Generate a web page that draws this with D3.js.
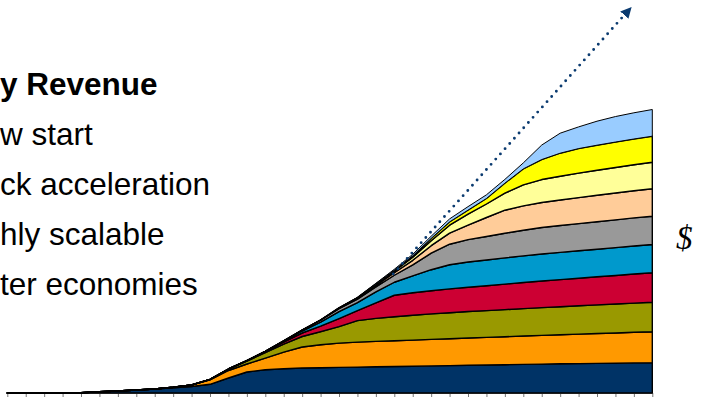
<!DOCTYPE html>
<html>
<head>
<meta charset="utf-8">
<script src="https://cdn.jsdelivr.net/npm/d3@7"></script>
<style>
  html, body { margin: 0; padding: 0; background: #fff; }
  svg { display: block; }
</style>
</head>
<body>
<svg id="chart" width="704" height="397"></svg>
<script>
// ---- data ----
const periods = d3.range(1, 37).map(d => "P" + d);

const seriesNames = ["S1","S2","S3","S4","S5","S6","S7","S8","S9","S10"];
const seriesColors = ["#003366","#FF9900","#999900","#CC0033","#0099CC","#999999","#FFCC99","#FFFF99","#FFFF00","#99CCFF"];

const s1  = [0,0,0,0,0.3,1.2,2,3,4,5.2,6.5,8.7,15,21,23.3,24.3,25,25.3,25.6,25.9,26.2,26.5,26.8,27.1,27.4,27.7,28,28.3,28.6,28.9,29.2,29.4,29.6,29.8,30.1,30.3];
const s2  = [0,0,0,0,0,0,0,0,0,0.5,1.5,4.5,7.5,8,11.5,16.5,21,23,24.3,25,25.4,25.75,26.1,26.5,26.9,27.25,27.6,28,28.4,28.75,29.1,29.5,29.9,30.25,30.6,31];
const s3  = [0,0,0,0,0,0,0,0,0,0,0,0.5,1.5,3,5.5,8,10.5,13,16.5,21.5,23,24,24.8,25.5,26,26.5,26.8,27.1,27.4,27.7,28,28.3,28.6,28.9,29.2,29.4];
const s4  = [0,0,0,0,0,0,0,0,0,0,0,0,0,0.3,1,2,3.5,5.5,8,10,15.5,21.5,22.5,23.2,23.8,24.3,24.9,25.5,26.1,26.6,27.1,27.6,28.1,28.6,29.1,29.6];
const s5  = [0,0,0,0,0,0,0,0,0,0,0,0,0,0,0.3,1,2,4,7,8,11,13,17,21,24.2,25.3,25.7,26.2,26.6,27,27.2,27.4,27.6,27.8,28,28.2];
const s6  = [0,0,0,0,0,0,0,0,0,0,0,0,0,0,0,0.3,1,2,3,3.5,5,7,11,16.5,20.5,22.3,23.5,24.7,25.7,26.5,26.9,27.2,27.5,27.8,28.1,28.3];
const s7  = [0,0,0,0,0,0,0,0,0,0,0,0,0,0,0,0,0,0.2,0.5,0.8,1.5,2.5,4.5,7.5,11,14.5,19,23,24.3,25,25.5,26,26.4,26.8,27.1,27.4];
const s8  = [0,0,0,0,0,0,0,0,0,0,0,0,0,0,0,0,0,0,0.2,0.5,1,1.5,3,5,8,11,13.5,17,21,23,23.8,24.5,25.1,25.6,26.1,26.6];
const s9  = [0,0,0,0,0,0,0,0,0,0,0,0,0,0,0,0,0,0,0,0.2,0.5,1,1.5,2.3,3.3,4,5.5,10,16,20,23,24.5,25,25.4,25.7,26];
const s10 = [0,0,0,0,0,0,0,0,0,0,0,0,0,0,0,0,0,0,0,0.2,0.5,1,1.5,2.2,3,3.5,3.7,3.8,6,14.5,20,21.7,24,25.5,26.2,26.7];

// trend arrow annotation (period index, value)
const trendFrom = [20.94, 119];
const trendTo   = [33.68, 382];

const headerText = "y Revenue";
const bulletTexts = ["w start", "ck acceleration", "hly scalable", "ter economies"];
const sideLabel = "$";

// ---- build table ----
const allSeries = [s1,s2,s3,s4,s5,s6,s7,s8,s9,s10];
const table = periods.map((p, i) => {
  const row = { period: p, idx: i };
  seriesNames.forEach((k, j) => row[k] = allSeries[j][i]);
  return row;
});

const svg = d3.select("#chart");

const x = d3.scaleLinear().domain([0, periods.length - 1]).range([7.3, 652.3]);
const y = d3.scaleLinear().domain([0, 300]).range([393, 93]);

const stacked = d3.stack().keys(seriesNames)(table);

const area = d3.area()
  .x(d => x(d.data.idx))
  .y0(d => y(d[0]))
  .y1(d => y(d[1]))
  .curve(d3.curveLinear);

// axis
const axis = d3.axisBottom(x)
  .tickValues(d3.range(periods.length))
  .tickFormat("")
  .tickSize(4)
  .tickSizeOuter(0);
const gAxis = svg.append("g").attr("transform", `translate(0,${y(0)})`).call(axis);
gAxis.select(".domain").attr("stroke", "#777").attr("stroke-width", 1);
gAxis.selectAll(".tick line").attr("stroke", "#777").attr("stroke-width", 1);

svg.append("g").selectAll("path")
  .data(stacked)
  .join("path")
  .attr("d", area)
  .attr("fill", (d, i) => seriesColors[i])
  .attr("stroke", "#000")
  .attr("stroke-width", (d, i) => i === stacked.length - 1 ? 1 : 1.4)
  .attr("stroke-linejoin", "round");

// dotted trend arrow
const defs = svg.append("defs");
defs.append("marker")
  .attr("id", "arrowhead")
  .attr("viewBox", "0 0 10 10")
  .attr("refX", 5).attr("refY", 5)
  .attr("markerWidth", 11).attr("markerHeight", 11)
  .attr("markerUnits", "userSpaceOnUse")
  .attr("orient", "auto")
  .append("path")
  .attr("d", "M0,0 L10,5 L0,10 Z")
  .attr("fill", "#0B3B70");

svg.append("line")
  .attr("x1", x(trendFrom[0])).attr("y1", y(trendFrom[1]))
  .attr("x2", x(trendTo[0])).attr("y2", y(trendTo[1]))
  .attr("stroke", "#0B3B70")
  .attr("stroke-width", 2.9)
  .attr("stroke-linecap", "round")
  .attr("stroke-dasharray", "0,7")
  .attr("marker-end", "url(#arrowhead)");

// texts
const tg = svg.append("g").attr("font-family", "'Liberation Sans', Arial, sans-serif").attr("fill", "#000");
tg.append("text")
  .attr("x", 0).attr("y", 94.5)
  .attr("font-size", 31.5)
  .attr("font-weight", "bold")
  .text(headerText);
tg.selectAll("text.bullet")
  .data(bulletTexts)
  .join("text")
  .attr("class", "bullet")
  .attr("x", 0)
  .attr("y", (d, i) => 144.5 + i * 50)
  .attr("font-size", 31.5)
  .text(d => d);

svg.append("text")
  .attr("x", 676).attr("y", 249)
  .attr("font-family", "'Liberation Serif', 'Times New Roman', serif")
  .attr("font-style", "italic")
  .attr("font-size", 33)
  .attr("fill", "#000")
  .text(sideLabel);
</script>
</body>
</html>
